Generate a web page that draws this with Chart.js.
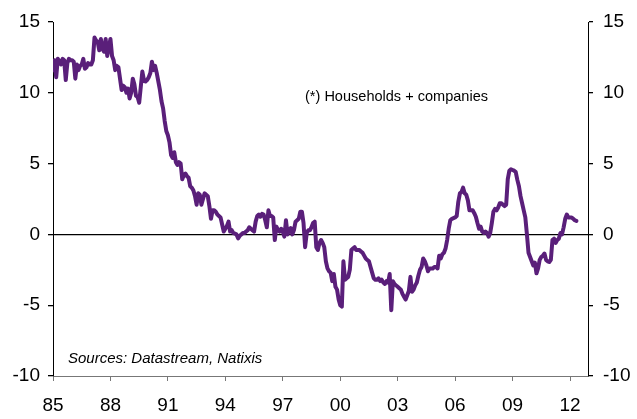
<!DOCTYPE html>
<html>
<head>
<meta charset="utf-8">
<script src="https://cdn.jsdelivr.net/npm/chart.js@4"></script>
<style>
  body { margin: 0; background: #fff; }
  #wrap { width: 637px; height: 419px; position: relative; }
</style>
</head>
<body>
<div id="wrap"><canvas id="chart"></canvas></div>
<script>
// monthly series, first value = Jan 1985
const startYear = 1985;
const credit = [
  11.6, 12.3, 11.1, 12.4, 12.2, 12.0, 12.4, 12.3, 10.9, 12.1, 12.4, 12.3, // 85
  12.3, 12.2, 11.0, 12.0, 11.6, 11.9, 12.0, 12.4, 11.7, 11.8, 12.1, 12.0, // 86
  12.0, 12.3, 13.9, 13.7, 13.6, 13.0, 13.8, 13.1, 12.9, 13.8, 12.6, 13.2, // 87
  13.8, 12.6, 12.3, 11.6, 11.9, 11.8, 11.0, 10.2, 10.5, 10.4, 10.0, 10.3, // 88
  9.6, 10.0, 11.0, 10.6, 9.8, 9.7, 9.3, 10.4, 11.5, 10.9, 10.8, 10.9,     // 89
  11.1, 11.4, 12.2, 11.6, 11.9, 11.4, 10.8, 10.2, 9.4, 8.9, 8.0, 7.3,     // 90
  7.0, 6.5, 5.6, 5.4, 5.8, 5.1, 4.9, 5.1, 5.0, 3.9, 4.2, 4.3,             // 91
  4.1, 4.0, 3.4, 3.3, 3.1, 2.7, 2.1, 2.9, 2.8, 2.1, 2.5, 2.9,             // 92
  2.8, 2.7, 2.0, 1.1, 1.7, 1.7, 1.6, 1.4, 1.3, 1.2, 0.7, 0.2,             // 93
  0.4, 0.6, 0.9, 0.2, 0.3, 0.1, 0.05, 0.0, -0.28, -0.1, 0.0, 0.1,         // 94
  0.1, 0.2, 0.3, 0.5, 0.4, 0.3, 0.2, 0.9, 1.3, 1.4, 1.25, 1.45,           // 95
  1.4, 1.0, 0.5, 1.7, 1.3, 1.3, 1.2, -0.4, 0.55, 0.3, 0.2, 0.4,           // 96
  0.2, -0.16, 1.0, 0.0, 0.3, 0.45, 0.0, 0.3, 0.9, 1.0, 1.1, 1.6,          // 97
  1.6, 0.8, -0.9, 0.1, 0.3, 0.3, 0.5, 0.8, 0.9, -0.9, -1.1, -0.6,         // 98
  -0.4, -0.6, -0.9, -1.9, -2.4, -2.6, -2.7, -3.3, -2.8, -3.7, -3.9, -4.6, // 99
  -5.0, -5.1, -1.9, -3.2, -3.1, -3.0, -2.5, -1.1, -1.0, -0.9, -1.1, -1.1, // 00
  -1.1, -1.2, -1.3, -1.5, -1.7, -1.8, -1.9, -2.3, -2.7, -3.1, -3.2, -3.2, // 01
  -3.1, -3.3, -3.2, -3.4, -3.5, -3.3, -3.4, -2.8, -5.35, -3.3, -3.5, -3.6, // 02
  -3.7, -3.8, -3.9, -4.2, -4.4, -4.6, -4.3, -4.0, -3.0, -4.05, -3.9, -3.6, // 03
  -3.4, -2.9, -2.5, -2.3, -1.7, -1.9, -2.2, -2.6, -2.4, -2.4, -2.4, -2.3, // 04
  -2.3, -2.4, -1.5, -1.7, -1.4, -1.3, -1.0, -0.4, 0.4, 1.0, 1.1, 1.15,    // 05
  1.2, 1.3, 2.3, 2.9, 3.0, 3.3, 2.9, 2.8, 2.4, 1.7, 1.7, 1.7,             // 06
  1.5, 1.25, 0.8, 0.4, 0.55, 0.2, 0.1, 0.2, 0.1, -0.16, 0.1, 0.8,         // 07
  1.6, 1.8, 1.7, 1.9, 2.2, 2.2, 2.1, 2.0, 2.1, 3.9, 4.5, 4.6,             // 08
  4.55, 4.5, 4.4, 3.85, 3.4, 2.7, 2.2, 1.7, 1.2, 0.0, -1.3, -1.6,         // 09
  -1.9, -2.2, -2.0, -2.75, -2.4, -1.8, -1.6, -1.5, -1.35, -1.8, -1.9, -1.95, // 10
  -1.8, -0.4, -0.3, -0.6, -0.4, -0.3, 0.1, 0.0, 0.5, 1.1, 1.4, 1.2,       // 11
  1.2, 1.2, 1.1, 1.0, 0.95                                                // 12
];
const tickYears = [1985, 1988, 1991, 1994, 1997, 2000, 2003, 2006, 2009, 2012];
const yTicks = [-10, -5, 0, 5, 10, 15];
const note = '(*) Households + companies';
const source = 'Sources: Datastream, Natixis';

const points = credit.map((v, i) => ({ x: startYear + i / 12, y: v }));

const tickFont = { family: 'Liberation Sans, Arial, sans-serif', size: 19 };

const textPlugin = {
  id: 'notes',
  afterDraw(chart) {
    const ctx = chart.ctx;
    ctx.save();
    ctx.fillStyle = '#000';
    ctx.textBaseline = 'alphabetic';
    ctx.textAlign = 'left';
    ctx.font = '15px Liberation Sans, Arial, sans-serif';
    ctx.fillText(note, 305, 101, 183);
    ctx.font = 'italic 15px Liberation Sans, Arial, sans-serif';
    ctx.fillText(source, 68, 363, 195);
    ctx.restore();
  }
};

function yAxis(pos, width, pad) {
  return {
    type: 'linear',
    position: pos,
    min: -10,
    max: 15,
    afterBuildTicks: s => { s.ticks = yTicks.map(v => ({ value: v })); },
    afterFit: s => { s.width = width; },
    ticks: { color: '#000', font: tickFont, padding: pad },
    border: { display: true, color: '#000', width: 1 },
    grid: {
      drawOnChartArea: pos === 'left',
      color: c => (c.tick && c.tick.value === 0 ? '#000' : 'rgba(0,0,0,0)'),
      lineWidth: 1.3,
      tickColor: '#000',
      tickLength: 5
    }
  };
}

new Chart(document.getElementById('chart'), {
  type: 'line',
  data: {
    datasets: [{
      data: points,
      borderColor: '#5a1f7a',
      borderWidth: 4,
      borderJoinStyle: 'round',
      borderCapStyle: 'round',
      pointRadius: 0,
      tension: 0,
      fill: false
    }]
  },
  options: {
    responsive: true,
    maintainAspectRatio: false,
    animation: false,
    layout: { padding: { top: 22, left: 0, right: 0, bottom: 0 } },
    plugins: { legend: { display: false }, tooltip: { enabled: false } },
    scales: {
      x: {
        type: 'linear',
        min: 1985,
        max: 2012.94,
        afterBuildTicks: s => { s.ticks = tickYears.map(v => ({ value: v })); },
        afterFit: s => { s.height = 43; },
        ticks: {
          color: '#000',
          font: tickFont,
          padding: 13,
          maxRotation: 0,
          callback: v => String(v % 100).padStart(2, '0')
        },
        border: { display: true, color: '#777', width: 1 },
        grid: { drawOnChartArea: false, tickColor: '#777', tickLength: 5 }
      },
      y: yAxis('left', 53, 8),
      y2: yAxis('right', 49, 10)
    }
  },
  plugins: [textPlugin]
});
</script>
</body>
</html>
